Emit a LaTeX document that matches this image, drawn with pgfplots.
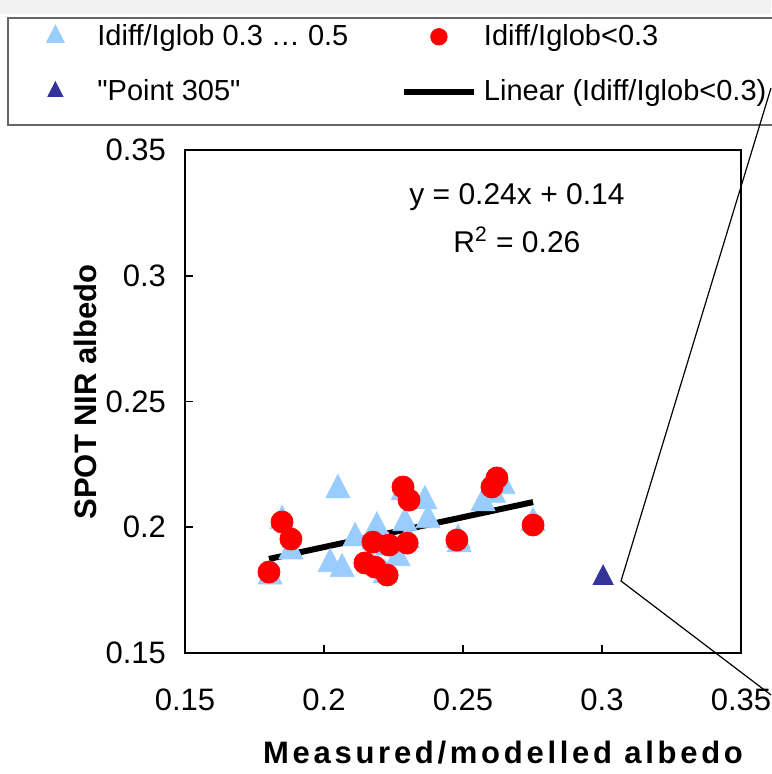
\documentclass[border=0pt]{standalone}
\usepackage{fontspec}
\setmainfont{Liberation Sans}
\usepackage{pgfplots}
\pgfplotsset{compat=1.18}
\definecolor{lblue}{RGB}{153,204,255}
\definecolor{dblue}{RGB}{51,51,153}
\pgfplotsset{myleg/.style={legend image code/.code={\path[draw=none,fill=none] (0pt,-5pt) (35pt,5pt);\draw[mark repeat=2,mark phase=2,##1] plot coordinates {(0pt,0pt)(17.5pt,0pt)(35pt,0pt)};}}}
\begin{document}
\begin{tikzpicture}
\path[use as bounding box] (0,0) rectangle (385.5pt,387pt);
\fill[black!5] (0,380pt) rectangle (385.5pt,387pt);
\draw[gray!80!black, line width=0.8pt, fill=white] (4pt,324.5pt) rectangle (390pt,378pt);
\begin{axis}[
  at={(92.5pt,60.5pt)}, anchor=south west,
  scale only axis, width=278pt, height=251.5pt,
  xmin=0.15, xmax=0.35, ymin=0.15, ymax=0.35,
  xtick={0.15,0.2,0.25,0.3,0.35}, xticklabels={0.15,0.2,0.25,0.3,0.35},
  ytick={0.15,0.2,0.25,0.3,0.35}, yticklabels={0.15,0.2,0.25,0.3,0.35},
  /pgf/number format/assume math mode=true,
  tick align=inside, xtick pos=bottom, ytick pos=left,
  major tick length=4pt,
  axis line style={line width=1pt},
  tick style={line width=0.8pt, black},
  ticklabel style={font=\fontsize{15.5}{18}\selectfont},
  xticklabel style={yshift=-14.5pt},
  yticklabel style={xshift=-6pt},
  xlabel={Measured/modelled albedo},
  ylabel={SPOT NIR albedo},
  label style={font=\fontsize{15.5}{18}\selectfont\bfseries},
  xlabel style={at={(axis description cs:0.572,-0.197)}, anchor=center, font=\fontsize{15.5}{18}\selectfont\bfseries\addfontfeatures{LetterSpace=12}},
  ylabel style={at={(axis description cs:-0.18,0.519)}, anchor=center},
  legend columns=2,
  legend cell align=left,
  legend image post style={every mark/.append style={scale=0.75}},
  legend style={at={(axis description cs:-0.2968,1.2537)}, anchor=north west,
    draw=none, fill=none, inner sep=0pt, row sep=13.4pt, column sep=2.5pt,
    font=\fontsize{14.5}{17}\selectfont,
    nodes={inner sep=1pt},
    /tikz/every even column/.append style={column sep=25.3pt}},
]
\addplot[only marks, mark=triangle*, mark size=6.9pt, mark options={draw=lblue, fill=lblue, yscale=1.12}, myleg] coordinates {
(0.1806,0.1805) (0.1849,0.2025) (0.1881,0.1905) (0.2050,0.2148)
(0.2022,0.1854) (0.2065,0.1834) (0.2112,0.1957) (0.2190,0.2000)
(0.2180,0.1945) (0.2220,0.1810) (0.2230,0.1920) (0.2266,0.1878)
(0.2291,0.2017) (0.2285,0.2140) (0.2363,0.2104) (0.2374,0.2029)
(0.2300,0.1950) (0.2482,0.1950) (0.2486,0.1933) (0.2572,0.2096)
(0.2610,0.2130) (0.2644,0.2164) (0.2752,0.2017)
};
\addlegendentry{Idiff/Iglob 0.3 … 0.5}
\addplot[only marks, mark=*, mark size=5.5pt, mark options={draw=red, fill=red}, myleg] coordinates {
(0.1802,0.1822) (0.1849,0.2021) (0.1881,0.1953) (0.2147,0.1858)
(0.2183,0.1842) (0.2227,0.1810) (0.2176,0.1941) (0.2234,0.1929)
(0.2299,0.1937) (0.2284,0.2160) (0.2306,0.2108) (0.2478,0.1949)
(0.2604,0.2160) (0.2622,0.2196) (0.2752,0.2009)
};
\addlegendentry{Idiff/Iglob<0.3}
\addplot[only marks, mark=triangle*, mark size=5.8pt, mark options={draw=dblue, fill=dblue, yscale=1.12}, myleg] coordinates {(0.3004,0.1798)};
\addlegendentry{\textquotedbl Point 305\textquotedbl}
\addplot[black, line width=3pt, no marks, myleg] coordinates {(0.1802,0.1874) (0.2752,0.2100)};
\addlegendentry{Linear (Idiff/Iglob<0.3)}
\node[font=\fontsize{15}{18}\selectfont] at (axis cs:0.2694,0.3313) {y = 0.24x + 0.14};
\node[font=\fontsize{15}{18}\selectfont] at (axis cs:0.2694,0.3142) {R\textsuperscript{2} = 0.26};
\end{axis}
\draw[black, line width=0.6pt] (385.5pt,343pt) -- (310.5pt,96.5pt) -- (385.5pt,39.5pt);
\end{tikzpicture}
\end{document}
